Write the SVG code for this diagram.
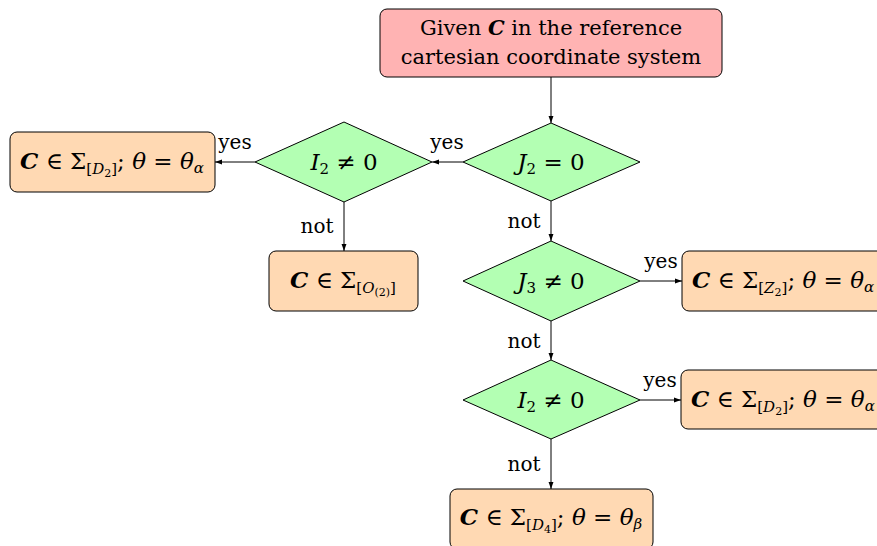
<svg xmlns="http://www.w3.org/2000/svg" width="877" height="546" viewBox="0 0 877 546" font-family="'DejaVu Serif', serif">
<defs>
<style>
text{font-family:'DejaVu Serif',serif}
.t{font-size:21px;fill:#000}
.m{font-size:23px;fill:#000}
.l{font-size:20px;fill:#000}
.i{font-style:italic}
.b{font-style:italic;font-weight:bold}
.s{font-size:15px}
.ss{font-size:11px}
.start{fill:#ffb3b3;stroke:#000;stroke-width:1}
.dec{fill:#b3ffb3;stroke:#000;stroke-width:1}
.res{fill:#ffd9b3;stroke:#000;stroke-width:1}
.c{stroke:#000;stroke-width:1;fill:none;marker-end:url(#ah)}
</style>
<marker id="ah" viewBox="0 0 10 10" refX="10" refY="5" markerWidth="7" markerHeight="7" orient="auto" markerUnits="userSpaceOnUse">
<path d="M0,1.5 L10,5 L0,8.5 Z" fill="#000"/>
</marker>
</defs>
<g id="start">
<rect class="start" x="380" y="9" width="342" height="68" rx="7"/>
<text class="t" text-anchor="middle" x="551" y="35">Given <tspan class="b">C</tspan> in the reference</text>
<text class="t" text-anchor="middle" x="551" y="64">cartesian coordinate system</text>
</g>
<g id="d1">
<polygon class="dec" points="551,123 640,162 551,201 463,162"/>
<text class="m" text-anchor="middle" x="551" y="170"><tspan class="i">J</tspan><tspan class="s" dy="4">2</tspan><tspan dy="-4"> = 0</tspan></text>
</g>
<g id="d2">
<polygon class="dec" points="344,122 432,162 344,202 255,162"/>
<text class="m" text-anchor="middle" x="344" y="170"><tspan class="i">I</tspan><tspan class="s" dy="4">2</tspan><tspan dy="-4"> ≠ 0</tspan></text>
</g>
<g id="r1">
<rect class="res" x="10" y="132" width="205" height="60" rx="7"/>
<text class="m" text-anchor="middle" x="112" y="169"><tspan class="b">C</tspan> ∈ Σ<tspan class="s" dy="5">[</tspan><tspan class="s i">D</tspan><tspan class="ss" dy="3">2</tspan><tspan class="s" dy="-3">]</tspan><tspan dy="-5">; </tspan><tspan class="i">θ</tspan> = <tspan class="i">θ</tspan><tspan class="s i" dy="4">α</tspan></text>
</g>
<g id="r2">
<rect class="res" x="269" y="251" width="149" height="60" rx="7"/>
<text class="m" text-anchor="middle" x="343" y="288"><tspan class="b">C</tspan> ∈ Σ<tspan class="s" dy="5">[</tspan><tspan class="s i">O</tspan><tspan class="ss" dy="3">(2)</tspan><tspan class="s" dy="-3">]</tspan></text>
</g>
<g id="d3">
<polygon class="dec" points="551,241 640,281 551,321 463,281"/>
<text class="m" text-anchor="middle" x="551" y="289"><tspan class="i">J</tspan><tspan class="s" dy="4">3</tspan><tspan dy="-4"> ≠ 0</tspan></text>
</g>
<g id="r3">
<rect class="res" x="682" y="251" width="210" height="60" rx="7"/>
<text class="m" x="692" y="288"><tspan class="b">C</tspan> ∈ Σ<tspan class="s" dy="5">[</tspan><tspan class="s i">Z</tspan><tspan class="ss" dy="3">2</tspan><tspan class="s" dy="-3">]</tspan><tspan dy="-5">; </tspan><tspan class="i">θ</tspan> = <tspan class="i">θ</tspan><tspan class="s i" dy="4">α</tspan></text>
</g>
<g id="d4">
<polygon class="dec" points="551,360 640,400 551,439 463,400"/>
<text class="m" text-anchor="middle" x="551" y="408"><tspan class="i">I</tspan><tspan class="s" dy="4">2</tspan><tspan dy="-4"> ≠ 0</tspan></text>
</g>
<g id="r4">
<rect class="res" x="681" y="370" width="210" height="59" rx="7"/>
<text class="m" x="691" y="407"><tspan class="b">C</tspan> ∈ Σ<tspan class="s" dy="5">[</tspan><tspan class="s i">D</tspan><tspan class="ss" dy="3">2</tspan><tspan class="s" dy="-3">]</tspan><tspan dy="-5">; </tspan><tspan class="i">θ</tspan> = <tspan class="i">θ</tspan><tspan class="s i" dy="4">α</tspan></text>
</g>
<g id="r5">
<rect class="res" x="450" y="489" width="203" height="60" rx="7"/>
<text class="m" text-anchor="middle" x="551" y="525"><tspan class="b">C</tspan> ∈ Σ<tspan class="s" dy="5">[</tspan><tspan class="s i">D</tspan><tspan class="ss" dy="3">4</tspan><tspan class="s" dy="-3">]</tspan><tspan dy="-5">; </tspan><tspan class="i">θ</tspan> = <tspan class="i">θ</tspan><tspan class="s i" dy="4">β</tspan></text>
</g>
<g id="connectors">
<path class="c" d="M551,77 L551,123"/>
<path class="c" d="M463,162 L432,162"/>
<path class="c" d="M255,162 L215,162"/>
<path class="c" d="M344,202 L344,251"/>
<path class="c" d="M551,201 L551,241"/>
<path class="c" d="M640,281 L682,281"/>
<path class="c" d="M551,321 L551,360"/>
<path class="c" d="M640,400 L681,400"/>
<path class="c" d="M551,439 L551,489"/>
<text class="l" text-anchor="middle" x="447" y="149">yes</text>
<text class="l" text-anchor="middle" x="235" y="149">yes</text>
<text class="l" text-anchor="middle" x="317" y="233">not</text>
<text class="l" text-anchor="middle" x="524" y="228">not</text>
<text class="l" text-anchor="middle" x="661" y="268">yes</text>
<text class="l" text-anchor="middle" x="524" y="348">not</text>
<text class="l" text-anchor="middle" x="660" y="387">yes</text>
<text class="l" text-anchor="middle" x="524" y="471">not</text>
</g>
</svg>
